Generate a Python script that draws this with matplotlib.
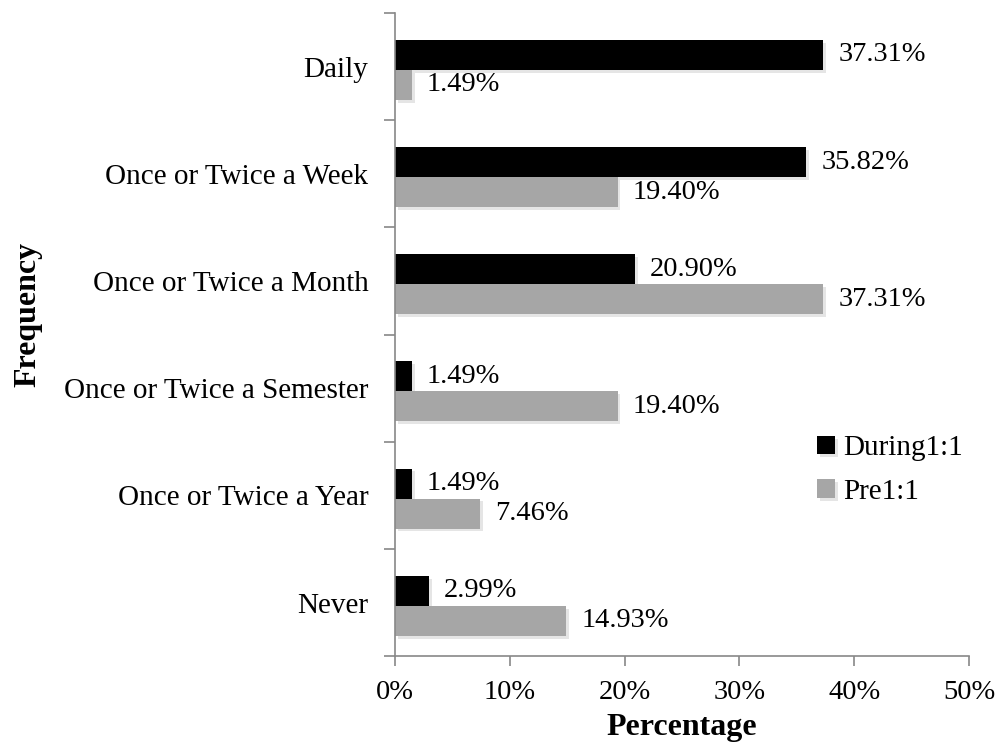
import numpy as np
import matplotlib
matplotlib.use("Agg")
import matplotlib.pyplot as plt
import matplotlib.patheffects as pe

categories = ['Never', 'Once or Twice a Year', 'Once or Twice a Semester',
              'Once or Twice a Month', 'Once or Twice a Week', 'Daily']
during = [2.99, 1.49, 1.49, 20.90, 35.82, 37.31]
pre = [14.93, 7.46, 19.40, 37.31, 19.40, 1.49]
x_ticks = [0, 10, 20, 30, 40, 50]

plt.rcParams['font.family'] = ['Liberation Serif', 'DejaVu Serif']

fig = plt.figure(figsize=(9.97, 7.44), dpi=100)
ax = fig.add_axes([0.396, 0.118, 0.576, 0.8645])

y = np.arange(len(categories)) - 0.03
h = 0.28
shadow = [pe.SimplePatchShadow(offset=(2, -2), shadow_rgbFace='#cccccc', alpha=0.5),
          pe.Normal()]
ax.barh(y + h / 2, during, height=h, color='black', label='During1:1',
        path_effects=shadow)
ax.barh(y - h / 2, pre, height=h, color='#a6a6a6', label='Pre1:1',
        path_effects=shadow)

# подписи значений справа от столбцов
for yy, v in zip(y + h / 2, during):
    ax.text(v + 1.3, yy, f'{v:.2f}%', va='center', ha='left', fontsize=20.5)
for yy, v in zip(y - h / 2, pre):
    ax.text(v + 1.3, yy, f'{v:.2f}%', va='center', ha='left', fontsize=20.5)

ax.set_xlim(0, 50)
ax.set_ylim(-0.5, 5.5)
ax.set_xticks(x_ticks)
ax.set_xticklabels([f'{t}%' for t in x_ticks], fontsize=20.5)
ax.set_yticks(np.arange(len(categories)))
ax.set_yticklabels(categories, fontsize=21)
ax.set_yticks(np.arange(-0.5, 5.6, 1.0), minor=True)
ax.tick_params(axis='y', which='major', length=0, pad=19)
ax.tick_params(axis='y', which='minor', length=8, color='#888888', width=1.2)
ax.tick_params(axis='x', length=7, color='#888888', width=1.2, pad=10)

for s in ['top', 'right']:
    ax.spines[s].set_visible(False)
for s in ['left', 'bottom']:
    ax.spines[s].set_color('#888888')
    ax.spines[s].set_linewidth(1.2)

fig.text(0.684, 0.022, 'Percentage', fontsize=23, fontweight='bold',
         ha='center', va='center')
fig.text(0.028, 0.577, 'Frequency', rotation=90, fontsize=23, fontweight='bold',
         ha='center', va='center')

ax.legend(loc='upper left', bbox_to_anchor=(0.69, 0.384), frameon=False,
          fontsize=21, handlelength=0.6, handleheight=0.6, handletextpad=0.3,
          labelspacing=0.6)

fig.savefig('out.png', dpi=100)
